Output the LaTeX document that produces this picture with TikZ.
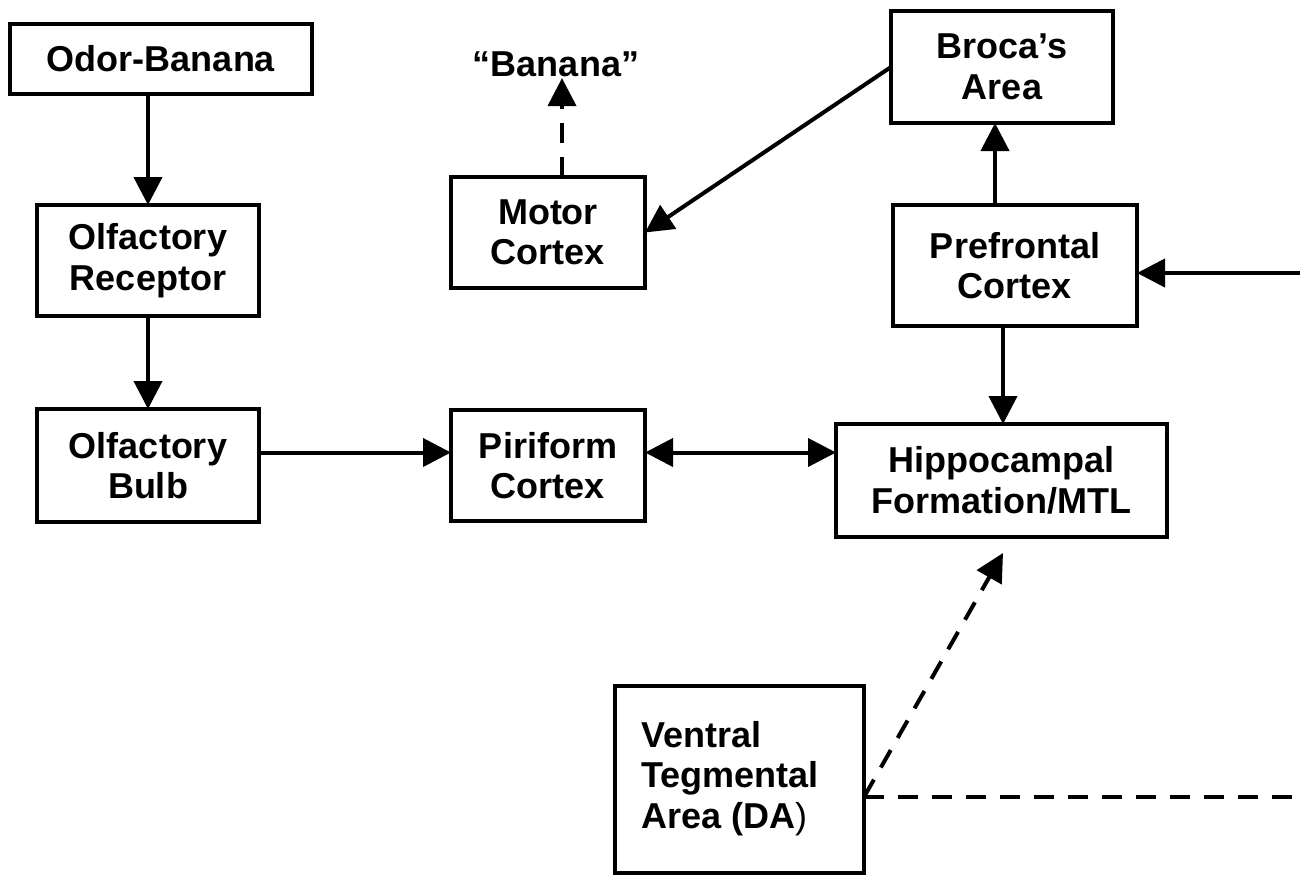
\documentclass[tikz,border=0pt]{standalone}
\usepackage{fontspec}
\setmainfont{Liberation Sans}
\usetikzlibrary{arrows.meta,calc}
\begin{document}
\begin{tikzpicture}[x=1pt,y=-1pt,
  lab/.style={font=\fontsize{36}{40.5}\selectfont\bfseries},
  box/.style={lab,draw,line width=4pt,anchor=north west,inner sep=0pt,outer sep=0pt,align=center},
  arr/.style={line width=4pt,-{Triangle[length=28pt,width=28pt]}},
  darr/.style={arr,dash pattern=on 20pt off 14pt},
  dline/.style={line width=4pt,dash pattern=on 20pt off 14pt}]
\useasboundingbox (0,0) rectangle (1300,876);
% boxes
\node[box,minimum width=302pt,minimum height=70pt] (odor) at (10,24) {Odor-Banana};
\node[box,minimum width=222pt,minimum height=111pt] (rec) at (37,205) {Olfactory\\Receptor};
\node[box,minimum width=222pt,minimum height=113pt] (bulb) at (37,409) {Olfactory\\Bulb};
\node[box,minimum width=194pt,minimum height=111pt] (piri) at (451,410) {Piriform\\Cortex};
\node[box,minimum width=194pt,minimum height=111pt] (motor) at (451,177) {Motor\\Cortex};
\node[lab] (banana) at (556,64) {“Banana”};
\node[box,minimum width=222pt,minimum height=112pt] (broca) at (891,11) {Broca’s\\Area};
\node[box,minimum width=244pt,minimum height=121pt] (pfc) at (893,205) {Prefrontal\\Cortex};
\node[box,minimum width=331pt,minimum height=113pt] (hip) at (836,424) {Hippocampal\\Formation/MTL};
\node[box,minimum width=249pt,minimum height=187pt] (vta) at (615,686) {};
\node[lab,anchor=north west,align=left,inner sep=0pt] (vtat) at (641,721) {Ventral\\Tegmental\\Area (DA{\mdseries )}};
% helper coordinates
\coordinate (rin) at (1300,273);
\coordinate (rout) at (1300,797);
\coordinate (vj) at ([yshift=-17.5pt]vta.east);
\coordinate (bulbr) at ([yshift=13pt]bulb.east);
\coordinate (pfcr) at ([yshift=-7.5pt]pfc.east);
\coordinate (pfcn) at ([xshift=-20pt]pfc.north);
\coordinate (pfcs) at ([xshift=-12pt]pfc.south);
\coordinate (motn) at ([xshift=14pt]motor.north);
\coordinate (hipt) at (1003,553);
% connectors
\draw[arr] (odor.south -| rec.north) -- (rec.north);
\draw[arr] (rec.south) -- (bulb.north);
\draw[arr] (bulbr) -- (bulbr -| piri.west);
\draw[arr,{Triangle[length=28pt,width=28pt]}-{Triangle[length=28pt,width=28pt]}] (bulbr -| piri.east) -- (bulbr -| hip.west);
\draw[arr] (pfcs) -- (pfcs |- hip.north);
\draw[arr] (pfcn) -- (pfcn |- broca.south);
\draw[arr] (broca.west) -- (motor.east);
\draw[darr] (motn) -- (motn |- banana.south) -- ++(0,-2);
\draw[arr] (rin) -- (pfcr);
\draw[darr] (vj) -- (hipt);
\draw[dline] (vj) -- (rout);
\end{tikzpicture}
\end{document}
